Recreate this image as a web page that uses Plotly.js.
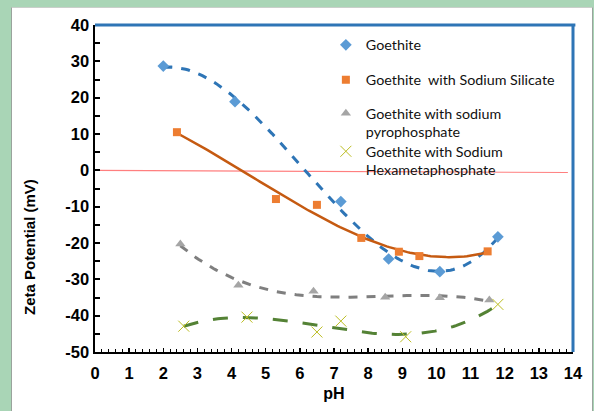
<!DOCTYPE html>
<html><head><meta charset="utf-8">
<script src="https://cdn.plot.ly/plotly-3.0.1.min.js"></script>
<style>
html,body{margin:0;padding:0;background:#a9d5b6;width:594px;height:411px;overflow:hidden;}
#panel{position:absolute;left:11px;top:7px;width:580px;height:404px;background:#fff;border-left:1px solid #9aa39c;border-top:1px solid #c9cfca;border-right:1px solid #9aa39c;}
#chart{position:absolute;left:0;top:0;width:594px;height:411px;}
</style></head>
<body>
<div id="panel"></div>
<div id="chart"></div>
<script>
// Data
const goethiteX = [2.0, 4.1, 7.2, 8.6, 10.1, 11.8];
const goethiteY = [28.7, 18.9, -8.6, -24.4, -27.9, -18.3];
const silicateX = [2.4, 5.3, 6.5, 7.8, 8.9, 9.5, 11.5];
const silicateY = [10.5, -7.9, -9.5, -18.6, -22.4, -23.6, -22.3];
const pyroX = [2.5, 4.2, 6.4, 8.5, 10.1, 11.55];
const pyroY = [-20.3, -31.6, -33.3, -34.9, -35.1, -35.7];
const hexaX = [2.6, 4.45, 6.5, 7.2, 9.1, 11.8];
const hexaY = [-42.9, -40.4, -44.5, -41.5, -45.8, -36.9];
const zeroX = [0, 13.85];
const zeroY = [0, -0.6];
const xTicks = [0,1,2,3,4,5,6,7,8,9,10,11,12,13,14];
const yTicks = [-50,-40,-30,-20,-10,0,10,20,30,40];
const names = ["Goethite", "Goethite  with Sodium Silicate", "Goethite with sodium<br>pyrophosphate", "Goethite with Sodium<br>Hexametaphosphate"];

// least-squares polynomial trendline (like the spreadsheet trendline)
function polyfit(xs, ys, deg){
  const n = deg+1;
  const A = [];
  for(let i=0;i<n;i++){A.push(new Array(n+1).fill(0));}
  for(let k=0;k<xs.length;k++){
    for(let i=0;i<n;i++){
      for(let j=0;j<n;j++) A[i][j]+=Math.pow(xs[k],i+j);
      A[i][n]+=ys[k]*Math.pow(xs[k],i);
    }
  }
  for(let i=0;i<n;i++){
    let p=i; for(let r=i+1;r<n;r++) if(Math.abs(A[r][i])>Math.abs(A[p][i])) p=r;
    [A[i],A[p]]=[A[p],A[i]];
    for(let r=0;r<n;r++){ if(r===i) continue; const f=A[r][i]/A[i][i]; for(let c=i;c<=n;c++) A[r][c]-=f*A[i][c]; }
  }
  return A.map((row,i)=>row[n]/row[i]);
}
function trend(xs, ys, deg){
  const c = polyfit(xs, ys, deg);
  const x0 = Math.min(...xs), x1 = Math.max(...xs);
  const tx=[], ty=[];
  for(let i=0;i<=120;i++){
    const x = x0+(x1-x0)*i/120;
    let y=0; for(let k=0;k<c.length;k++) y+=c[k]*Math.pow(x,k);
    tx.push(x); ty.push(y);
  }
  return {x:tx, y:ty};
}
const tG = trend(goethiteX, goethiteY, 3);
const tS = trend(silicateX, silicateY, 3);
const tP = trend(pyroX, pyroY, 3);
const tH = trend(hexaX, hexaY, 3);

const traces = [
  {x:zeroX, y:zeroY, mode:'lines', line:{color:'#ff7f7f', width:1.2}, showlegend:false, hoverinfo:'skip'},
  {x:tG.x, y:tG.y, mode:'lines', line:{color:'#2e75b6', width:3, dash:'dash'}, showlegend:false},
  {x:tS.x, y:tS.y, mode:'lines', line:{color:'#c55a11', width:2.5}, showlegend:false},
  {x:tP.x, y:tP.y, mode:'lines', line:{color:'#7f7f7f', width:3, dash:'dash'}, showlegend:false},
  {x:tH.x, y:tH.y, mode:'lines', line:{color:'#548235', width:3, dash:'longdash'}, showlegend:false},
  {x:goethiteX, y:goethiteY, mode:'markers', name:names[0], legend:'legend', marker:{symbol:'diamond', size:9, color:'#5b9bd5'}},
  {x:silicateX, y:silicateY, mode:'markers', name:names[1], legend:'legend2', marker:{symbol:'square', size:8, color:'#ed7d31'}},
  {x:pyroX, y:pyroY, mode:'markers', name:names[2], legend:'legend3', marker:{symbol:'triangle-up', size:9, color:'#a5a5a5'}},
  {x:hexaX, y:hexaY, mode:'markers', name:names[3], legend:'legend4', marker:{symbol:'x-thin-open', size:11, line:{color:'#70ad47', width:1}}}
];

const legBase = {x:0.483, xanchor:'left', yanchor:'middle', bgcolor:'rgba(0,0,0,0)', font:{family:'Lato, "Open Sans", sans-serif', size:14.3, color:'#111'}, itemwidth:20, valign:'top', tracegroupgap:0};
function py(p){ return (352-p)/327; }
const layout = {
  width:594, height:411,
  paper_bgcolor:'rgba(0,0,0,0)', plot_bgcolor:'rgba(0,0,0,0)',
  margin:{l:95, r:21, t:25, b:59},
  font:{family:'Arial, "Liberation Sans", sans-serif', color:'#000'},
  xaxis:{range:[0,14], tickvals:xTicks, ticktext:xTicks.map(String), ticks:'inside', ticklen:4, tickwidth:1.5, tickcolor:'#000',
    minor:{dtick:0.2, ticks:'inside', ticklen:3, tickwidth:1, tickcolor:'#000'},
    showline:true, linecolor:'#000', linewidth:2, showgrid:false, zeroline:false, ticklabelstandoff:5,
    tickfont:{size:16.5, family:'Arial', weight:'bold'}, title:{text:'<b>pH</b>', font:{size:16}, standoff:7}},
  yaxis:{range:[-50,40], tickvals:yTicks, ticktext:yTicks.map(String), ticks:'inside', ticklen:5, tickwidth:2, tickcolor:'#000',
    minor:{dtick:5, ticks:'inside', ticklen:5, tickwidth:2, tickcolor:'#000'},
    showline:true, linecolor:'#000', linewidth:2.5, showgrid:false, zeroline:false,
    tickfont:{size:16.5, family:'Arial', weight:'bold'}},
  annotations:[
    {text:'<b>Zeta Potential (mV)</b>', xref:'paper', yref:'paper', x:(30-95)/478, y:(352-247)/327, xanchor:'center', yanchor:'middle', textangle:-90, showarrow:false, font:{size:15, family:'Arial'}}
  ],
  shapes:[
    {type:'line', xref:'paper', yref:'paper', x0:0, x1:1.005, y0:1, y1:1, line:{color:'#2e75b6', width:3}},
    {type:'line', xref:'paper', yref:'paper', x0:1, x1:1, y0:0, y1:1, line:{color:'#2e75b6', width:3}}
  ],
  legend:Object.assign({}, legBase, {y:py(45)}),
  legend2:Object.assign({}, legBase, {y:py(80)}),
  legend3:Object.assign({}, legBase, {y:py(123)}),
  legend4:Object.assign({}, legBase, {y:py(161)})
};
Plotly.newPlot('chart', traces, layout, {displayModeBar:false, staticPlot:true});
</script>
</body></html>
